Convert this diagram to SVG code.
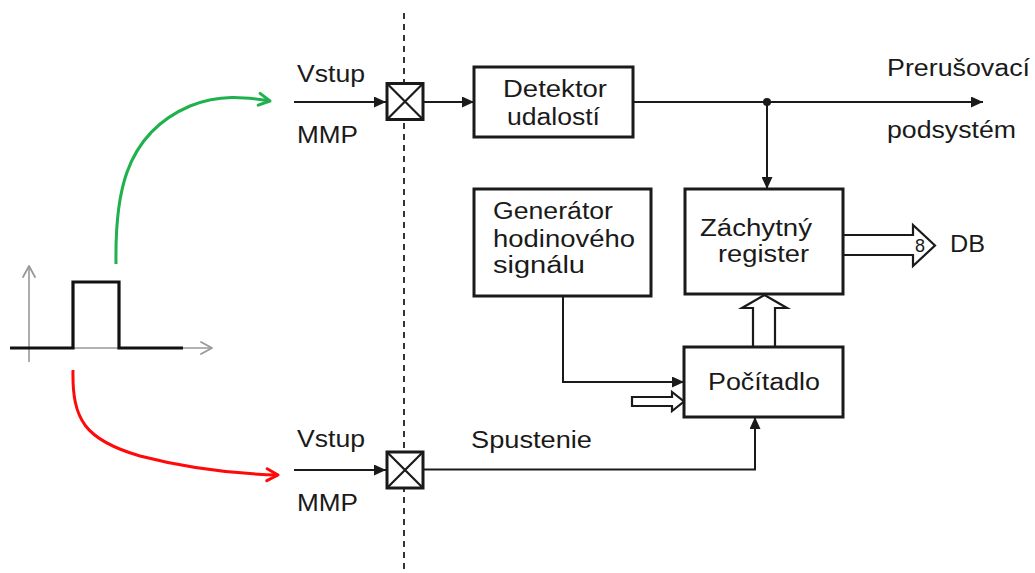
<svg xmlns="http://www.w3.org/2000/svg" width="1035" height="573" viewBox="0 0 1035 573">
  <style>
    text { font-family: "Liberation Sans", Arial, sans-serif; font-size: 23px; fill: #1a1a1a; }
    .box { fill: #fff; stroke: #1a1a1a; stroke-width: 3; }
    .wire { fill: none; stroke: #1a1a1a; stroke-width: 2; }
    .hollow { fill: #fff; stroke: #1a1a1a; stroke-width: 2.2; stroke-linejoin: miter; }
    .axis { fill: none; stroke: #999; stroke-width: 1.6; }
  </style>
  <defs>
    <marker id="arr" markerUnits="userSpaceOnUse" markerWidth="13" markerHeight="11" refX="12" refY="5.5" orient="auto">
      <path d="M0,0 L12,5.5 L0,11 z" fill="#1a1a1a"/>
    </marker>
    <marker id="chevGreen" markerUnits="userSpaceOnUse" markerWidth="16" markerHeight="16" refX="13" refY="8" orient="auto">
      <path d="M2,2 L13,8 L2,14" fill="none" stroke="#1fb14d" stroke-width="3" stroke-linecap="round" stroke-linejoin="round"/>
    </marker>
    <marker id="chevRed" markerUnits="userSpaceOnUse" markerWidth="16" markerHeight="16" refX="13" refY="8" orient="auto">
      <path d="M2,2 L13,8 L2,14" fill="none" stroke="#ff0a0a" stroke-width="3" stroke-linecap="round" stroke-linejoin="round"/>
    </marker>
    <marker id="chevGray" markerUnits="userSpaceOnUse" markerWidth="16" markerHeight="16" refX="13" refY="8" orient="auto">
      <path d="M2,2 L13,8 L2,14" fill="none" stroke="#999" stroke-width="1.8" stroke-linecap="round" stroke-linejoin="round"/>
    </marker>
  </defs>

  <!-- boundary between sensor side and logic -->
  <line x1="404" y1="13" x2="404" y2="573" stroke="#333" stroke-width="2" stroke-dasharray="6 5"/>

  <!-- pulse waveform with axes -->
  <g id="pulse">
    <line class="axis" x1="29" y1="362" x2="29" y2="266" marker-end="url(#chevGray)"/>
    <line class="axis" x1="10" y1="348" x2="212" y2="348" marker-end="url(#chevGray)"/>
    <polyline points="10,348 73,348 73,282 119,282 119,348 183,348" fill="none" stroke="#111" stroke-width="3.2"/>
  </g>

  <!-- edge curves -->
  <g id="edges">
    <path d="M116,264 C115,200 122,135 190,106 C220,94 245,97 270,101" fill="none" stroke="#1fb14d" stroke-width="3" marker-end="url(#chevGreen)"/>
    <path d="M73,370 C72,420 85,440 140,456 C190,469 240,474 278,475" fill="none" stroke="#ff0a0a" stroke-width="3" marker-end="url(#chevRed)"/>
  </g>

  <!-- connectors -->
  <g id="connectors">
    <line class="wire" x1="294" y1="102" x2="386" y2="102" marker-end="url(#arr)"/>
    <line class="wire" x1="294" y1="470" x2="386" y2="470" marker-end="url(#arr)"/>
    <line class="wire" x1="423" y1="102" x2="474" y2="102" marker-end="url(#arr)"/>
    <line class="wire" x1="633" y1="102" x2="983" y2="102" marker-end="url(#arr)"/>
    <line class="wire" x1="767" y1="102" x2="767" y2="189" marker-end="url(#arr)"/>
    <circle cx="767" cy="102" r="4" fill="#1a1a1a"/>
    <path class="wire" d="M563,296 V382 H684" marker-end="url(#arr)"/>
    <path class="wire" d="M423,469.5 H755 V417" marker-end="url(#arr)"/>
    <!-- bus arrows -->
    <polygon class="hollow" points="843,235 913,235 913,225 935,245.5 913,266 913,255 843,255"/>
    <polygon class="hollow" points="753,347 753,308 742,308 764.5,295 787,308 775,308 775,347"/>
    <polygon class="hollow" points="632,397 672,397 672,392 684,401.5 672,411 672,406 632,406"/>
  </g>

  <!-- input gates -->
  <g id="gate-top">
    <rect class="box" x="387" y="83.5" width="36" height="36"/>
    <path d="M387,83.5 L423,119.5 M423,83.5 L387,119.5" stroke="#1a1a1a" stroke-width="2.2"/>
  </g>
  <g id="gate-bottom">
    <rect class="box" x="387" y="452" width="36" height="36"/>
    <path d="M387,452 L423,488 M423,452 L387,488" stroke="#1a1a1a" stroke-width="2.2"/>
  </g>

  <g id="detektor">
    <rect class="box" x="474" y="67" width="159" height="70"/>
    <text x="503" y="97" textLength="104" lengthAdjust="spacingAndGlyphs">Detektor</text>
    <text x="507" y="125" textLength="93" lengthAdjust="spacingAndGlyphs">udalostí</text>
  </g>

  <g id="generator">
    <rect class="box" x="474" y="189" width="177" height="107"/>
    <text x="493" y="219" textLength="120" lengthAdjust="spacingAndGlyphs">Generátor</text>
    <text x="493" y="247" textLength="142" lengthAdjust="spacingAndGlyphs">hodinového</text>
    <text x="493" y="273" textLength="92" lengthAdjust="spacingAndGlyphs">signálu</text>
  </g>

  <g id="register">
    <rect class="box" x="685" y="189" width="158" height="105"/>
    <text x="700" y="236" textLength="112" lengthAdjust="spacingAndGlyphs">Záchytný</text>
    <text x="718" y="262" textLength="91" lengthAdjust="spacingAndGlyphs">register</text>
  </g>

  <g id="counter">
    <rect class="box" x="684" y="347" width="159" height="70"/>
    <text x="708" y="390" textLength="112" lengthAdjust="spacingAndGlyphs">Počítadlo</text>
  </g>

  <!-- labels -->
  <g id="labels">
    <text x="297" y="82" textLength="68" lengthAdjust="spacingAndGlyphs">Vstup</text>
    <text x="297" y="143" textLength="61" lengthAdjust="spacingAndGlyphs">MMP</text>
    <text x="297" y="447" textLength="68" lengthAdjust="spacingAndGlyphs">Vstup</text>
    <text x="297" y="511" textLength="61" lengthAdjust="spacingAndGlyphs">MMP</text>
    <text x="471" y="448" textLength="121" lengthAdjust="spacingAndGlyphs">Spustenie</text>
    <text x="887" y="76" textLength="143" lengthAdjust="spacingAndGlyphs">Prerušovací</text>
    <text x="887" y="138" textLength="129" lengthAdjust="spacingAndGlyphs">podsystém</text>
    <text x="950" y="252" textLength="35" lengthAdjust="spacingAndGlyphs">DB</text>
    <text x="915" y="252" style="font-size:18px">8</text>
  </g>
</svg>
